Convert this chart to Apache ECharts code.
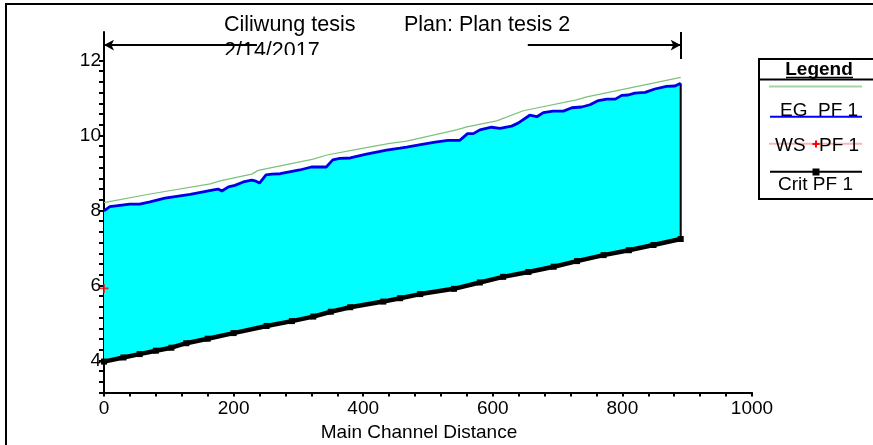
<!DOCTYPE html>
<html><head><meta charset="utf-8">
<script src="https://cdn.jsdelivr.net/npm/echarts@6/dist/echarts.min.js"></script>
<style>html,body{margin:0;padding:0;background:#fff}#c{width:873px;height:445px}</style>
</head><body><div id="c"></div>
<script>
// ---- data ----
const wsX = [0, 9, 40, 55, 71, 94, 133, 169, 176, 182, 192, 202, 215, 228, 233, 240, 250, 259, 272, 302, 320, 343, 353, 364, 380, 405, 436, 457, 467, 493, 511, 531, 549, 561, 570, 580, 598, 611, 629, 639, 657, 668, 678, 693, 709, 722, 737, 750, 763, 776, 789, 799, 809, 819, 835, 850, 868, 881, 890];
const wsY = [7.99, 8.10, 8.17, 8.17, 8.23, 8.33, 8.43, 8.55, 8.57, 8.52, 8.63, 8.67, 8.76, 8.81, 8.79, 8.73, 8.95, 8.97, 8.98, 9.08, 9.16, 9.16, 9.35, 9.39, 9.40, 9.50, 9.61, 9.66, 9.69, 9.77, 9.82, 9.87, 9.87, 10.05, 10.05, 10.15, 10.22, 10.19, 10.25, 10.33, 10.54, 10.50, 10.61, 10.65, 10.65, 10.74, 10.76, 10.82, 10.93, 10.97, 10.97, 11.07, 11.08, 11.13, 11.15, 11.24, 11.31, 11.32, 11.39];
const egX = [0, 71, 164, 179, 228, 238, 323, 344, 390, 441, 467, 544, 560, 606, 647, 729, 745, 801, 890];
const egY = [8.21, 8.44, 8.71, 8.79, 8.97, 9.07, 9.37, 9.48, 9.63, 9.79, 9.85, 10.15, 10.23, 10.39, 10.66, 10.95, 11.03, 11.23, 11.55];
const groundX = [0, 30, 55, 80, 104, 127, 160, 200, 251, 290, 323, 350, 380, 431, 457, 488, 540, 580, 616, 655, 694, 730, 771, 810, 848, 890];
const groundY = [3.97, 4.08, 4.17, 4.26, 4.34, 4.46, 4.58, 4.73, 4.92, 5.05, 5.17, 5.30, 5.42, 5.57, 5.66, 5.77, 5.91, 6.08, 6.23, 6.36, 6.50, 6.65, 6.81, 6.94, 7.08, 7.24];
const critX = [0];
const critY = [5.92];
const xTickLabels = [0, 200, 400, 600, 800, 1000];
const yTickLabels = [4, 6, 8, 10, 12];
const titleTexts = ['Ciliwung tesis', 'Plan: Plan tesis 2', '2/14/2017'];
const xAxisTitle = 'Main Channel Distance';
const legendTexts = ['Legend', 'EG  PF 1', 'WS', 'PF 1', 'Crit PF 1'];

// ---- axis decoration ----
const Y_MIN = 22 / 7, Y_MAX = 12.76;
const yTicks = [];
for (let k = 0; k <= 31; k++) yTicks.push((22 + 2 * k) / 7);
const lastX = wsX[wsX.length - 1];
const arrowY = 12.41, barLo = 12.04, barHi = 12.76;
const arrowGap = [236, 654];

const FONT = '"Liberation Sans", Arial, sans-serif';
const plusPath = 'path://M-1,-5 L1,-5 L1,-1 L5,-1 L5,1 L1,1 L1,5 L-1,5 L-1,1 L-5,1 L-5,-1 L-1,-1 Z';

const chart = echarts.init(document.getElementById('c'), null, {renderer: 'canvas'});

function pairs(xs, ys) { return xs.map((x, i) => [x, ys[i]]); }

const option = {
  animation: false,
  backgroundColor: '#fff',
  grid: {left: 104, right: 121, top: 32, bottom: 52.4, containLabel: false},
  xAxis: {
    type: 'value', min: 0, max: 1000, interval: 40,
    axisLine: {onZero: false, lineStyle: {color: '#000', width: 2}},
    axisTick: {length: 4, lineStyle: {color: '#000', width: 2}},
    axisLabel: {
      color: '#000', fontFamily: FONT, fontSize: 19, margin: 7,
      formatter: v => xTickLabels.some(t => Math.abs(t - v) < 1e-6) ? String(Math.round(v)) : ''
    },
    splitLine: {show: false}
  },
  yAxis: {
    type: 'value', min: Y_MIN, max: Y_MAX,
    axisLine: {onZero: false, lineStyle: {color: '#000', width: 2}},
    axisTick: {length: 5, customValues: yTicks, lineStyle: {color: '#000', width: 2}},
    axisLabel: {color: '#000', fontFamily: FONT, fontSize: 19, margin: 3, customValues: yTickLabels},
    splitLine: {show: false}
  },
  series: [
    {
      type: 'custom', z: 1, silent: true,
      data: [[wsX[0], wsY[0]]],
      renderItem: function (params, api) {
        const pts = [];
        for (let i = 0; i < wsX.length; i++) pts.push(api.coord([wsX[i], wsY[i]]));
        for (let i = groundX.length - 1; i >= 0; i--) pts.push(api.coord([groundX[i], groundY[i]]));
        return {type: 'polygon', shape: {points: pts}, style: {fill: '#00ffff', stroke: null}};
      }
    },
    {
      name: 'Ground', type: 'line', z: 3, silent: true,
      data: pairs(groundX, groundY),
      symbol: 'rect', symbolSize: 6, showSymbol: true,
      itemStyle: {color: '#000'},
      lineStyle: {color: '#000', width: 4.5}
    },
    {
      name: 'Edge', type: 'line', z: 3, silent: true,
      data: [[lastX, groundY[groundY.length - 1]], [lastX, wsY[wsY.length - 1]]],
      symbol: 'none',
      lineStyle: {color: '#000', width: 2},
      markLine: {
        silent: true, symbol: ['none', 'none'], symbolSize: [8, 10],
        label: {show: false},
        lineStyle: {color: '#000', width: 2, type: 'solid'},
        data: [
          [{coord: [0, arrowY], symbol: 'arrow'}, {coord: [arrowGap[0], arrowY], symbol: 'none'}],
          [{coord: [arrowGap[1], arrowY], symbol: 'none'}, {coord: [lastX, arrowY], symbol: 'arrow'}],
          [{coord: [0, barLo]}, {coord: [0, barHi]}],
          [{coord: [lastX, barLo]}, {coord: [lastX, barHi]}]
        ]
      }
    },
    {
      name: 'EG PF 1', type: 'line', z: 4, silent: true,
      data: pairs(egX, egY), symbol: 'none',
      lineStyle: {color: '#7cc27c', width: 1.2}
    },
    {
      name: 'WS PF 1', type: 'line', z: 5, silent: true,
      data: pairs(wsX, wsY), symbol: 'none',
      lineStyle: {color: '#0000e6', width: 2.8}
    },
    {
      name: 'Crit PF 1', type: 'scatter', z: 6, silent: true,
      data: pairs(critX, critY), symbol: plusPath, symbolSize: 9,
      itemStyle: {color: '#ff0000'}
    }
  ],
  graphic: [
    // outer frame
    {type: 'rect', z: 100, silent: true, shape: {x: 6, y: 4, width: 1000, height: 1000},
      style: {fill: null, stroke: '#000', lineWidth: 2}},
    // titles
    {type: 'text', z: 50, silent: true, style: {text: titleTexts[0], x: 224, y: 25, font: '21.5px ' + FONT, fill: '#000', align: 'left', verticalAlign: 'middle'}},
    {type: 'text', z: 50, silent: true, style: {text: titleTexts[1], x: 404, y: 25, font: '21.5px ' + FONT, fill: '#000', align: 'left', verticalAlign: 'middle'}},
    {type: 'text', z: 50, silent: true, style: {text: titleTexts[2], x: 224, y: 51.5, font: '21.5px ' + FONT, fill: '#000', align: 'left', verticalAlign: 'middle'}},
    {type: 'rect', z: 51, silent: true, shape: {x: 218, y: 55, width: 120, height: 8}, style: {fill: '#fff'}},
    // x axis title
    {type: 'text', z: 50, silent: true, style: {text: xAxisTitle, x: 419, y: 433, font: '19px ' + FONT, fill: '#000', align: 'center', verticalAlign: 'middle'}},
    // legend box
    {type: 'rect', z: 60, silent: true, shape: {x: 759, y: 59, width: 200, height: 140}, style: {fill: '#fff', stroke: '#000', lineWidth: 2}},
    {type: 'line', z: 61, silent: true, shape: {x1: 759, y1: 79.5, x2: 873, y2: 79.5}, style: {stroke: '#000', lineWidth: 2}},
    {type: 'text', z: 62, silent: true, style: {text: legendTexts[0], x: 819, y: 70, font: 'bold 19px ' + FONT, fill: '#000', align: 'center', verticalAlign: 'middle'}},
    {type: 'line', z: 62, silent: true, shape: {x1: 786, y1: 77.5, x2: 853, y2: 77.5}, style: {stroke: '#000', lineWidth: 1.5}},
    {type: 'line', z: 61, silent: true, shape: {x1: 769, y1: 86.5, x2: 862, y2: 86.5}, style: {stroke: '#a6d6a6', lineWidth: 2}},
    {type: 'text', z: 62, silent: true, style: {text: legendTexts[1], x: 780, y: 111, font: '19px ' + FONT, fill: '#000', align: 'left', verticalAlign: 'middle'}},
    {type: 'line', z: 63, silent: true, shape: {x1: 770, y1: 116.7, x2: 862, y2: 116.7}, style: {stroke: '#0000ff', lineWidth: 2}},
    {type: 'line', z: 61, silent: true, shape: {x1: 769, y1: 143.7, x2: 862, y2: 143.7}, style: {stroke: '#ffb4b4', lineWidth: 2}},
    {type: 'text', z: 62, silent: true, style: {text: legendTexts[2], x: 775, y: 145.5, font: '19px ' + FONT, fill: '#000', align: 'left', verticalAlign: 'middle'}},
    {type: 'text', z: 62, silent: true, style: {text: legendTexts[3], x: 819, y: 145.5, font: '19px ' + FONT, fill: '#000', align: 'left', verticalAlign: 'middle'}},
    {type: 'rect', z: 63, silent: true, shape: {x: 812.5, y: 143, width: 7, height: 2}, style: {fill: '#ff0000'}},
    {type: 'rect', z: 63, silent: true, shape: {x: 815, y: 140.5, width: 2, height: 7}, style: {fill: '#ff0000'}},
    {type: 'line', z: 61, silent: true, shape: {x1: 770, y1: 171.7, x2: 862, y2: 171.7}, style: {stroke: '#000', lineWidth: 2}},
    {type: 'rect', z: 62, silent: true, shape: {x: 812.5, y: 168.5, width: 7, height: 7}, style: {fill: '#000'}},
    {type: 'text', z: 62, silent: true, style: {text: legendTexts[4], x: 778, y: 184.5, font: '19px ' + FONT, fill: '#000', align: 'left', verticalAlign: 'middle'}}
  ]
};
chart.setOption(option);
</script>
</body></html>
